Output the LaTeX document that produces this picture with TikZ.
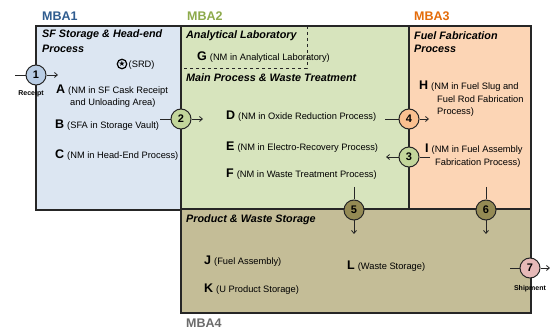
\documentclass[tikz,border=0pt]{standalone}
\usepackage{fontspec}
\setmainfont{Liberation Sans}
\newfontfamily\symfont{DejaVu Sans}
\usetikzlibrary{arrows.meta}
\definecolor{fillA}{HTML}{DCE6F2}
\definecolor{fillB}{HTML}{D7E4BD}
\definecolor{fillC}{HTML}{FCD5B5}
\definecolor{fillD}{HTML}{C4BD97}
\definecolor{labA}{HTML}{2F5C8F}
\definecolor{labB}{HTML}{8DAA4B}
\definecolor{labC}{HTML}{E46C0A}
\definecolor{labD}{HTML}{6B6B6B}
\definecolor{circA}{HTML}{B9CDE5}
\definecolor{circB}{HTML}{C3D69B}
\definecolor{circC}{HTML}{FAC090}
\definecolor{circD}{HTML}{948A54}
\definecolor{circE}{HTML}{E6B9B8}
\definecolor{edge}{HTML}{262626}
\tikzset{
  mbabox/.style={draw=edge, line width=1.1pt},
  mbalabel/.style={anchor=west, inner sep=0pt, font=\fontsize{12.5}{14}\selectfont\bfseries},
  areatitle/.style={anchor=west, inner sep=0pt, font=\fontsize{10.8}{12}\selectfont\bfseries\itshape},
  item/.style={anchor=base west, inner sep=0pt, font=\fontsize{9.3}{11}\selectfont},
  kmp/.style={circle, draw=edge, line width=1pt, minimum size=20pt, inner sep=0pt, font=\fontsize{11}{13}\selectfont\bfseries},
  flow/.style={line width=0.8pt, draw=edge},
  flowarr/.style={line width=0.8pt, draw=edge, -{Straight Barb[length=3pt,width=5pt]}},
  small/.style={inner sep=0pt, font=\fontsize{7}{8}\selectfont\bfseries},
}
\newcommand{\bigL}[1]{{\fontsize{12.5}{14}\selectfont\bfseries #1}\hspace{3pt}}
\begin{document}
\begin{tikzpicture}[x=1pt,y=-1pt]
\useasboundingbox (0,0) rectangle (550,329);
\fill[white] (0,0) rectangle (550,329);
% boxes
\draw[mbabox, fill=fillA] (36,26) rectangle (181,210);
\draw[mbabox, fill=fillB] (181,26) rectangle (409,209);
\draw[mbabox, fill=fillC] (409,26) rectangle (531,209);
\draw[mbabox, fill=fillD] (181,209) rectangle (531,313);
% dashed analytical lab
\draw[dashed, line width=0.7pt, edge] (307,26) -- (307,68) -- (181,68);
% MBA labels
\node[mbalabel, text=labA] (m1) at (42,16) {MBA1};
\node[mbalabel, text=labB] (m2) at (187,16) {MBA2};
\node[mbalabel, text=labC] (m3) at (414,16) {MBA3};
\node[mbalabel, text=labD] (m4) at (186,323) {MBA4};
% area titles
\node[areatitle] (t1) at (42,35) {SF Storage \& Head-end};
\node[areatitle] (t1b) at (42,49) {Process};
\node[areatitle] (t2) at (186,36) {Analytical Laboratory};
\node[areatitle] (t3) at (186,78) {Main Process \& Waste Treatment};
\node[areatitle] (t4) at (414,36) {Fuel Fabrication};
\node[areatitle] (t4b) at (414,49) {Process};
\node[areatitle] (t5) at (186,220) {Product \& Waste Storage};
% SRD
\node[circle, draw=black, line width=1.2pt, minimum size=9.5pt, inner sep=0pt, font=\symfont\fontsize{7.5}{7.5}\selectfont] (srd) at (122,64) {★};
\node[item] (srdt) at (128.5,67.5) {(SRD)};
% items MBA1
\node[item] (A) at (56,94) {\bigL{A}(NM in SF Cask Receipt};
\node[item] (A2) at (70,106) {and Unloading Area)};
\node[item] (B) at (55,129) {\bigL{B}(SFA in Storage Vault)};
\node[item] (C) at (55,159) {\bigL{C}(NM in Head-End Process)};
% MBA2
\node[item] (G) at (197,61) {\bigL{G}(NM in Analytical Laboratory)};
\node[item] (D) at (226,120) {\bigL{D}(NM in Oxide Reduction Process)};
\node[item] (E) at (226,150) {\bigL{E}(NM in Electro-Recovery Process)};
\node[item] (F) at (226,178) {\bigL{F}(NM in Waste Treatment Process)};
% MBA3
\node[item] (H) at (419,90) {\bigL{H}(NM in Fuel Slug and};
\node[item] (H2) at (437,102.5) {Fuel Rod Fabrication};
\node[item] (H3) at (437,114.5) {Process)};
\node[item] (I) at (425,152.5) {\bigL{I}(NM in Fuel Assembly};
\node[item] (I2) at (435,165) {Fabrication Process)};
% MBA4
\node[item] (J) at (204,265) {\bigL{J}(Fuel Assembly)};
\node[item] (K) at (204,292) {\bigL{K}(U Product Storage)};
\node[item] (L) at (347,269.5) {\bigL{L}(Waste Storage)};
% KMP circles
\node[kmp, fill=circA] (k1) at (36,75) {1};
\node[kmp, fill=circB] (k2) at (181,119) {2};
\node[kmp, fill=circB] (k3) at (409,157) {3};
\node[kmp, fill=circC] (k4) at (409,119) {4};
\node[kmp, fill=circD] (k5) at (354,210) {5};
\node[kmp, fill=circD] (k6) at (486,210) {6};
\node[kmp, fill=circE] (k7) at (530,268) {7};
\node[small] (rc) at (31,94) {Receipt};
\node[small] (sh) at (530,289) {Shipment};
% flow coordinates
\coordinate (i1) at (15,75);   \coordinate (o1) at (58,75);
\coordinate (i2) at (160,119); \coordinate (o2) at (203,119);
\coordinate (i4) at (385,119); \coordinate (o4) at (429,119);
\coordinate (i3) at (430,157); \coordinate (o3) at (386,157);
\coordinate (i5) at (354,187); \coordinate (o5) at (354,234);
\coordinate (i6) at (486,187); \coordinate (o6) at (486,234);
\coordinate (i7) at (510,268); \coordinate (o7) at (550,268);
\foreach \k in {1,...,7}{
  \draw[flow] (i\k) -- (k\k);
  \draw[flowarr] (k\k) -- (o\k);
}
\end{tikzpicture}
\end{document}
